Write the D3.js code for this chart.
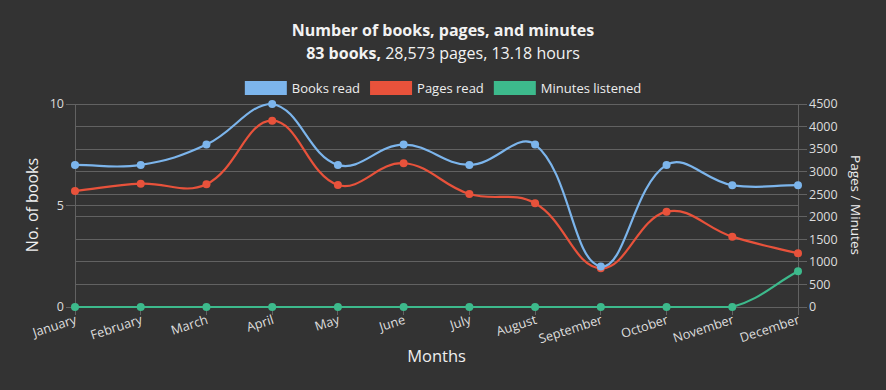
<!DOCTYPE html>
<html><head><meta charset="utf-8">
<script src="https://cdn.jsdelivr.net/npm/d3@7"></script>
<style>
html,body{margin:0;padding:0;background:#333333;}
svg{display:block;font-family:"Open Sans","Noto Sans",sans-serif;}
</style></head>
<body>
<svg id="chart" width="886" height="390"></svg>
<script>
const months = ["January","February","March","April","May","June","July","August","September","October","November","December"];
const booksRead = [7,7,8,10,7,8,7,8,2,7,6,6];
const pagesRead = [2572,2734,2722,4130,2705,3186,2505,2299,858,2113,1559,1190];
const minutesListened = [0,0,0,0,0,0,0,0,0,0,0,791];
const leftTicks = [0,5,10];
const rightTicks = [0,500,1000,1500,2000,2500,3000,3500,4000,4500];
const seriesNames = ["Books read","Pages read","Minutes listened"];
const seriesColors = ["#7cb5ec","#e8523b","#3dba8c"];

const W = 886, H = 390;
const area = {left:75, right:798, top:104, bottom:307};
const svg = d3.select("#chart");
svg.append("rect").attr("width",W).attr("height",H).attr("fill","#333333");

const x = d3.scalePoint().domain(months).range([area.left, area.right]);
const yL = d3.scaleLinear().domain([0,10]).range([area.bottom, area.top]);
const yR = d3.scaleLinear().domain([0,4500]).range([area.bottom, area.top]);

const gridColor = "#626262";
const tickColor = "#dddddd";

// gridlines
const grid = svg.append("g");
leftTicks.forEach(t=>{
  grid.append("line").attr("x1",area.left-9).attr("x2",area.right).attr("y1",yL(t)).attr("y2",yL(t))
    .attr("stroke",gridColor).attr("stroke-width",1).attr("shape-rendering","crispEdges");
});
rightTicks.forEach(t=>{
  grid.append("line").attr("x1",area.left).attr("x2",area.right+9).attr("y1",yR(t)).attr("y2",yR(t))
    .attr("stroke",gridColor).attr("stroke-width",1).attr("shape-rendering","crispEdges");
});
// axis borders
grid.append("line").attr("x1",area.left).attr("x2",area.left).attr("y1",area.top).attr("y2",area.bottom+8)
  .attr("stroke",gridColor).attr("shape-rendering","crispEdges");
grid.append("line").attr("x1",area.right).attr("x2",area.right).attr("y1",area.top).attr("y2",area.bottom+8)
  .attr("stroke",gridColor).attr("shape-rendering","crispEdges");
// x tick marks
months.forEach(m=>{
  grid.append("line").attr("x1",x(m)).attr("x2",x(m)).attr("y1",area.bottom).attr("y2",area.bottom+8)
    .attr("stroke",gridColor).attr("shape-rendering","crispEdges");
});

// left tick labels
const lAx = svg.append("g");
leftTicks.forEach(t=>{
  lAx.append("text").attr("x",area.left-11).attr("y",yL(t)).attr("dy","0.35em")
    .attr("text-anchor","end").attr("fill",tickColor).attr("font-size",12.5).text(t);
});
// right tick labels
const rAx = svg.append("g");
rightTicks.forEach(t=>{
  rAx.append("text").attr("x",area.right+11).attr("y",yR(t)).attr("dy","0.35em")
    .attr("text-anchor","start").attr("fill",tickColor).attr("font-size",12.5).text(t);
});
// x tick labels
const xAx = svg.append("g");
months.forEach(m=>{
  xAx.append("text").attr("transform",`translate(${x(m)+1},${area.bottom+12}) rotate(-18)`)
    .attr("dy","0.35em").attr("text-anchor","end").attr("fill",tickColor).attr("font-size",12.8).text(m);
});

// axis titles
svg.append("text").attr("transform",`translate(38,205) rotate(-90)`).attr("text-anchor","middle")
  .attr("fill","#eeeeee").attr("font-size",16).text("No. of books");
svg.append("text").attr("transform",`translate(851,205) rotate(90)`).attr("text-anchor","middle")
  .attr("fill","#eeeeee").attr("font-size",13.5).text("Pages / Minutes");
svg.append("text").attr("x",(area.left+area.right)/2).attr("y",362).attr("text-anchor","middle")
  .attr("fill","#eeeeee").attr("font-size",16.5).text("Months");

// title
svg.append("text").attr("x",W/2).attr("y",36).attr("text-anchor","middle").attr("fill","#f2f2f2")
  .attr("font-size",16).attr("font-weight","bold").text("Number of books, pages, and minutes");
const sub = svg.append("text").attr("x",W/2).attr("y",59).attr("text-anchor","middle").attr("fill","#f2f2f2").attr("font-size",16);
sub.append("tspan").attr("font-weight","bold").text(d3.sum(booksRead)+" books,");
sub.append("tspan").text(" "+d3.format(",")(d3.sum(pagesRead))+" pages, "+(d3.sum(minutesListened)/60).toFixed(2)+" hours");

// legend
const leg = svg.append("g");
let lx = 0;
seriesNames.forEach((n,i)=>{
  const g = leg.append("g").attr("transform",`translate(${lx},0)`);
  g.append("rect").attr("x",0).attr("y",81).attr("width",42).attr("height",14).attr("fill",seriesColors[i]);
  const t = g.append("text").attr("x",47).attr("y",88).attr("dy","0.35em").attr("fill","#eeeeee").attr("font-size",13).text(n);
  const w = t.node().getComputedTextLength();
  lx += 47 + w + 10;
});
const legW = lx - 10;
leg.attr("transform",`translate(${W/2 - legW/2},0)`);

// Chart.js-like bezier spline (tension 0.4)
function splinePath(pts, tension){
  const cps = pts.map((p,i)=>{
    const prev = pts[i-1]||p, next = pts[i+1]||p;
    const d01 = Math.hypot(p[0]-prev[0], p[1]-prev[1]);
    const d12 = Math.hypot(next[0]-p[0], next[1]-p[1]);
    let s01 = d01/(d01+d12), s12 = d12/(d01+d12);
    if(isNaN(s01)) s01 = 0; if(isNaN(s12)) s12 = 0;
    const fa = tension*s01, fb = tension*s12;
    const cap = (v,lo,hi)=>Math.max(lo,Math.min(hi,v));
    return {
      c1:[cap(p[0]-fa*(next[0]-prev[0]),area.left,area.right), cap(p[1]-fa*(next[1]-prev[1]),area.top,area.bottom)],
      c2:[cap(p[0]+fb*(next[0]-prev[0]),area.left,area.right), cap(p[1]+fb*(next[1]-prev[1]),area.top,area.bottom)]
    };
  });
  const path = d3.path();
  path.moveTo(pts[0][0],pts[0][1]);
  for(let i=1;i<pts.length;i++){
    path.bezierCurveTo(cps[i-1].c2[0],cps[i-1].c2[1],cps[i].c1[0],cps[i].c1[1],pts[i][0],pts[i][1]);
  }
  return path.toString();
}

const series = [
  {vals:booksRead, y:yL, color:seriesColors[0]},
  {vals:pagesRead, y:yR, color:seriesColors[1]},
  {vals:minutesListened, y:yR, color:seriesColors[2]}
];
const plot = svg.append("g");
[2,1,0].forEach(si=>{
  const s = series[si];
  const pts = s.vals.map((v,i)=>[x(months[i]), s.y(v)]);
  plot.append("path").attr("d",splinePath(pts,0.4)).attr("fill","none").attr("stroke",s.color).attr("stroke-width",2.2);
  pts.forEach(p=>{
    plot.append("circle").attr("cx",p[0]).attr("cy",p[1]).attr("r",4).attr("fill",s.color);
  });
});
</script>
</body></html>
